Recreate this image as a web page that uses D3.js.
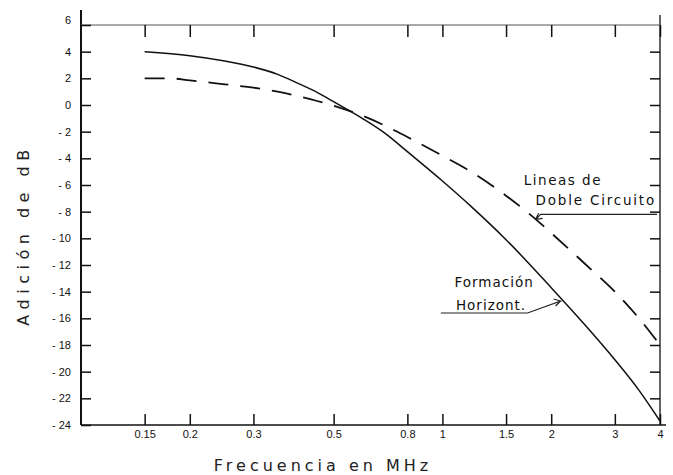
<!DOCTYPE html>
<html>
<head>
<meta charset="utf-8">
<script src="https://cdn.jsdelivr.net/npm/d3@7"></script>
<style>
  body { margin: 0; background: #fff; }
  svg { display: block; }
  .axis text { font-family: "Liberation Sans", sans-serif; font-size: 11px; fill: #111; }
  .axis path, .axis line { stroke: #111; }
  .title { font-family: "DejaVu Sans", sans-serif; font-size: 16px; fill: #222; }
  .note { font-family: "DejaVu Sans", sans-serif; font-size: 13.5px; fill: #111; }
</style>
</head>
<body>
<div id="chart"></div>
<script>
// frequency ticks (MHz) and dB ticks
var xTicks = [0.15, 0.2, 0.3, 0.5, 0.8, 1, 1.5, 2, 3, 4];
var xTickLabels = ["0.15", "0.2", "0.3", "0.5", "0.8", "1", "1.5", "2", "3", "4"];
var yTicks = [6, 4, 2, 0, -2, -4, -6, -8, -10, -12, -14, -16, -18, -20, -22, -24];

// solid curve: Formación Horizont.
var horizFreq = [0.15, 0.2, 0.25, 0.3, 0.35, 0.4, 0.45, 0.5, 0.6, 0.7, 0.8, 1, 1.2, 1.5, 2, 2.5, 3, 3.5, 4];
var horizDb   = [4.0, 3.7, 3.3, 2.85, 2.3, 1.6, 0.95, 0.25, -1.0, -2.2, -3.5, -5.7, -7.6, -10.1, -13.7, -16.6, -19.1, -21.4, -23.7];

// dashed curve: Lineas de Doble Circuito
var dobleFreq = [0.15, 0.175, 0.2, 0.25, 0.3, 0.35, 0.4, 0.45, 0.5, 0.6, 0.7, 0.8, 1, 1.2, 1.5, 1.8, 2, 2.5, 3, 3.5, 4];
var dobleDb   = [2.0, 2.0, 1.85, 1.55, 1.3, 1.0, 0.65, 0.3, -0.05, -0.8, -1.6, -2.4, -3.8, -5.0, -6.8, -8.5, -9.6, -12.0, -14.0, -16.0, -18.0];

var width = 673, height = 475;
var margin = {top: 25, right: 660, bottom: 425, left: 81}; // plot edges in px

var svg = d3.select("#chart").append("svg")
    .attr("width", width)
    .attr("height", height);

var x = d3.scaleLog()
    .domain([0.1, 4])
    .range([margin.left, margin.right]);

var y = d3.scaleLinear()
    .domain([-24, 6])
    .range([margin.bottom, margin.top]);

// frame lines
svg.append("line").attr("x1", margin.left).attr("x2", margin.left).attr("y1", 10).attr("y2", margin.bottom)
    .attr("stroke", "#111").attr("stroke-width", 2);
svg.append("line").attr("x1", margin.right).attr("x2", margin.right).attr("y1", 15).attr("y2", margin.bottom)
    .attr("stroke", "#111").attr("stroke-width", 1.3);
svg.append("line").attr("x1", margin.left).attr("x2", margin.right).attr("y1", margin.top).attr("y2", margin.top)
    .attr("stroke", "#555").attr("stroke-width", 1);
svg.append("line").attr("x1", margin.left).attr("x2", margin.right + 6).attr("y1", margin.bottom).attr("y2", margin.bottom)
    .attr("stroke", "#111").attr("stroke-width", 1.5);

// bottom axis, ticks pointing up
var xAxis = svg.append("g")
    .attr("class", "axis")
    .attr("transform", "translate(0," + margin.bottom + ")")
    .call(d3.axisBottom(x)
        .tickValues(xTicks)
        .tickSize(-11)
        .tickSizeOuter(0)
        .tickPadding(5)
        .tickFormat(function(d, i) { return xTickLabels[i]; }));
xAxis.select(".domain").remove();
xAxis.selectAll("line").attr("stroke-width", 1.5);

// top axis, ticks pointing down, no labels
var topAxis = svg.append("g")
    .attr("class", "axis")
    .attr("transform", "translate(0," + margin.top + ")")
    .call(d3.axisTop(x).tickValues(xTicks).tickSize(-12).tickSizeOuter(0).tickFormat(""));
topAxis.select(".domain").remove();
topAxis.selectAll("line").attr("stroke-width", 1.5);

// left axis with labels
var yAxis = svg.append("g")
    .attr("class", "axis")
    .attr("transform", "translate(" + margin.left + ",0)")
    .call(d3.axisLeft(y)
        .tickValues(yTicks)
        .tickSize(-10)
        .tickSizeOuter(0)
        .tickPadding(10)
        .tickFormat(function(d) { return d < 0 ? "- " + Math.abs(d) : d; }));
yAxis.select(".domain").remove();
yAxis.selectAll("line").attr("stroke-width", 1.5);
// the 6 sits just above the top border
yAxis.selectAll(".tick").filter(function(d) { return d == 6; })
    .select("text").attr("dy", "-0.1em");

// right axis, ticks pointing in
var rightAxis = svg.append("g")
    .attr("class", "axis")
    .attr("transform", "translate(" + margin.right + ",0)")
    .call(d3.axisRight(y).tickValues(yTicks.slice(1, -1)).tickSize(-10).tickSizeOuter(0).tickFormat(""));
rightAxis.select(".domain").remove();
rightAxis.selectAll("line").attr("stroke-width", 1.5);

// the two curves
var line = d3.line()
    .curve(d3.curveMonotoneX)
    .x(function(d) { return x(d[0]); })
    .y(function(d) { return y(d[1]); });

svg.append("path")
    .datum(dobleFreq.map(function(f, i) { return [f, dobleDb[i]]; }))
    .attr("fill", "none")
    .attr("stroke", "#111")
    .attr("stroke-width", 1.8)
    .attr("stroke-dasharray", "20,12")
    .attr("d", line);

svg.append("path")
    .datum(horizFreq.map(function(f, i) { return [f, horizDb[i]]; }))
    .attr("fill", "none")
    .attr("stroke", "#111")
    .attr("stroke-width", 1.5)
    .attr("d", line);

// annotation: Lineas de Doble Circuito
var dTip = [1.8, -8.5];
svg.append("text").attr("class", "note").attr("x", x(1.68)).attr("y", y(-6.0))
    .style("letter-spacing", "1.5px").text("Lineas  de");
svg.append("text").attr("class", "note").attr("x", x(1.81)).attr("y", y(-7.5))
    .style("letter-spacing", "1.8px").text("Doble Circuito");
svg.append("path")
    .attr("fill", "none").attr("stroke", "#222").attr("stroke-width", 1.2)
    .attr("d", "M" + (margin.right - 3) + "," + (y(dTip[1]) - 4) + "L" + (x(dTip[0]) + 6) + "," + (y(dTip[1]) - 4)
        + "L" + (x(dTip[0]) + 1) + "," + (y(dTip[1]) + 1)
        + "M" + (x(dTip[0]) + 1) + "," + (y(dTip[1]) + 1) + "l7,-1 M" + (x(dTip[0]) + 1) + "," + (y(dTip[1]) + 1) + "l3,-6");

// annotation: Formación Horizont.
var hTip = [2.15, -14.7];
svg.append("text").attr("class", "note").attr("x", x(1.08)).attr("y", y(-13.65))
    .style("letter-spacing", "1px").text("Formación");
svg.append("text").attr("class", "note").attr("x", x(1.09)).attr("y", y(-15.35))
    .style("letter-spacing", "1px").text("Horizont.");
svg.append("path")
    .attr("fill", "none").attr("stroke", "#222").attr("stroke-width", 1.2)
    .attr("d", "M" + x(0.99) + "," + (y(-15.6)) + "L" + x(1.72) + "," + y(-15.6)
        + "L" + (x(hTip[0]) - 2) + "," + y(hTip[1])
        + "l-7,-2 M" + (x(hTip[0]) - 2) + "," + y(hTip[1]) + "l-5,5");

// axis titles
svg.append("text")
    .attr("class", "title")
    .attr("x", 323)
    .attr("y", 471)
    .attr("text-anchor", "middle")
    .style("letter-spacing", "4px")
    .text("Frecuencia en MHz");

svg.append("text")
    .attr("class", "title")
    .attr("transform", "translate(29,235) rotate(-90)")
    .attr("text-anchor", "middle")
    .style("letter-spacing", "5.5px")
    .text("Adición de dB");
</script>
</body>
</html>
